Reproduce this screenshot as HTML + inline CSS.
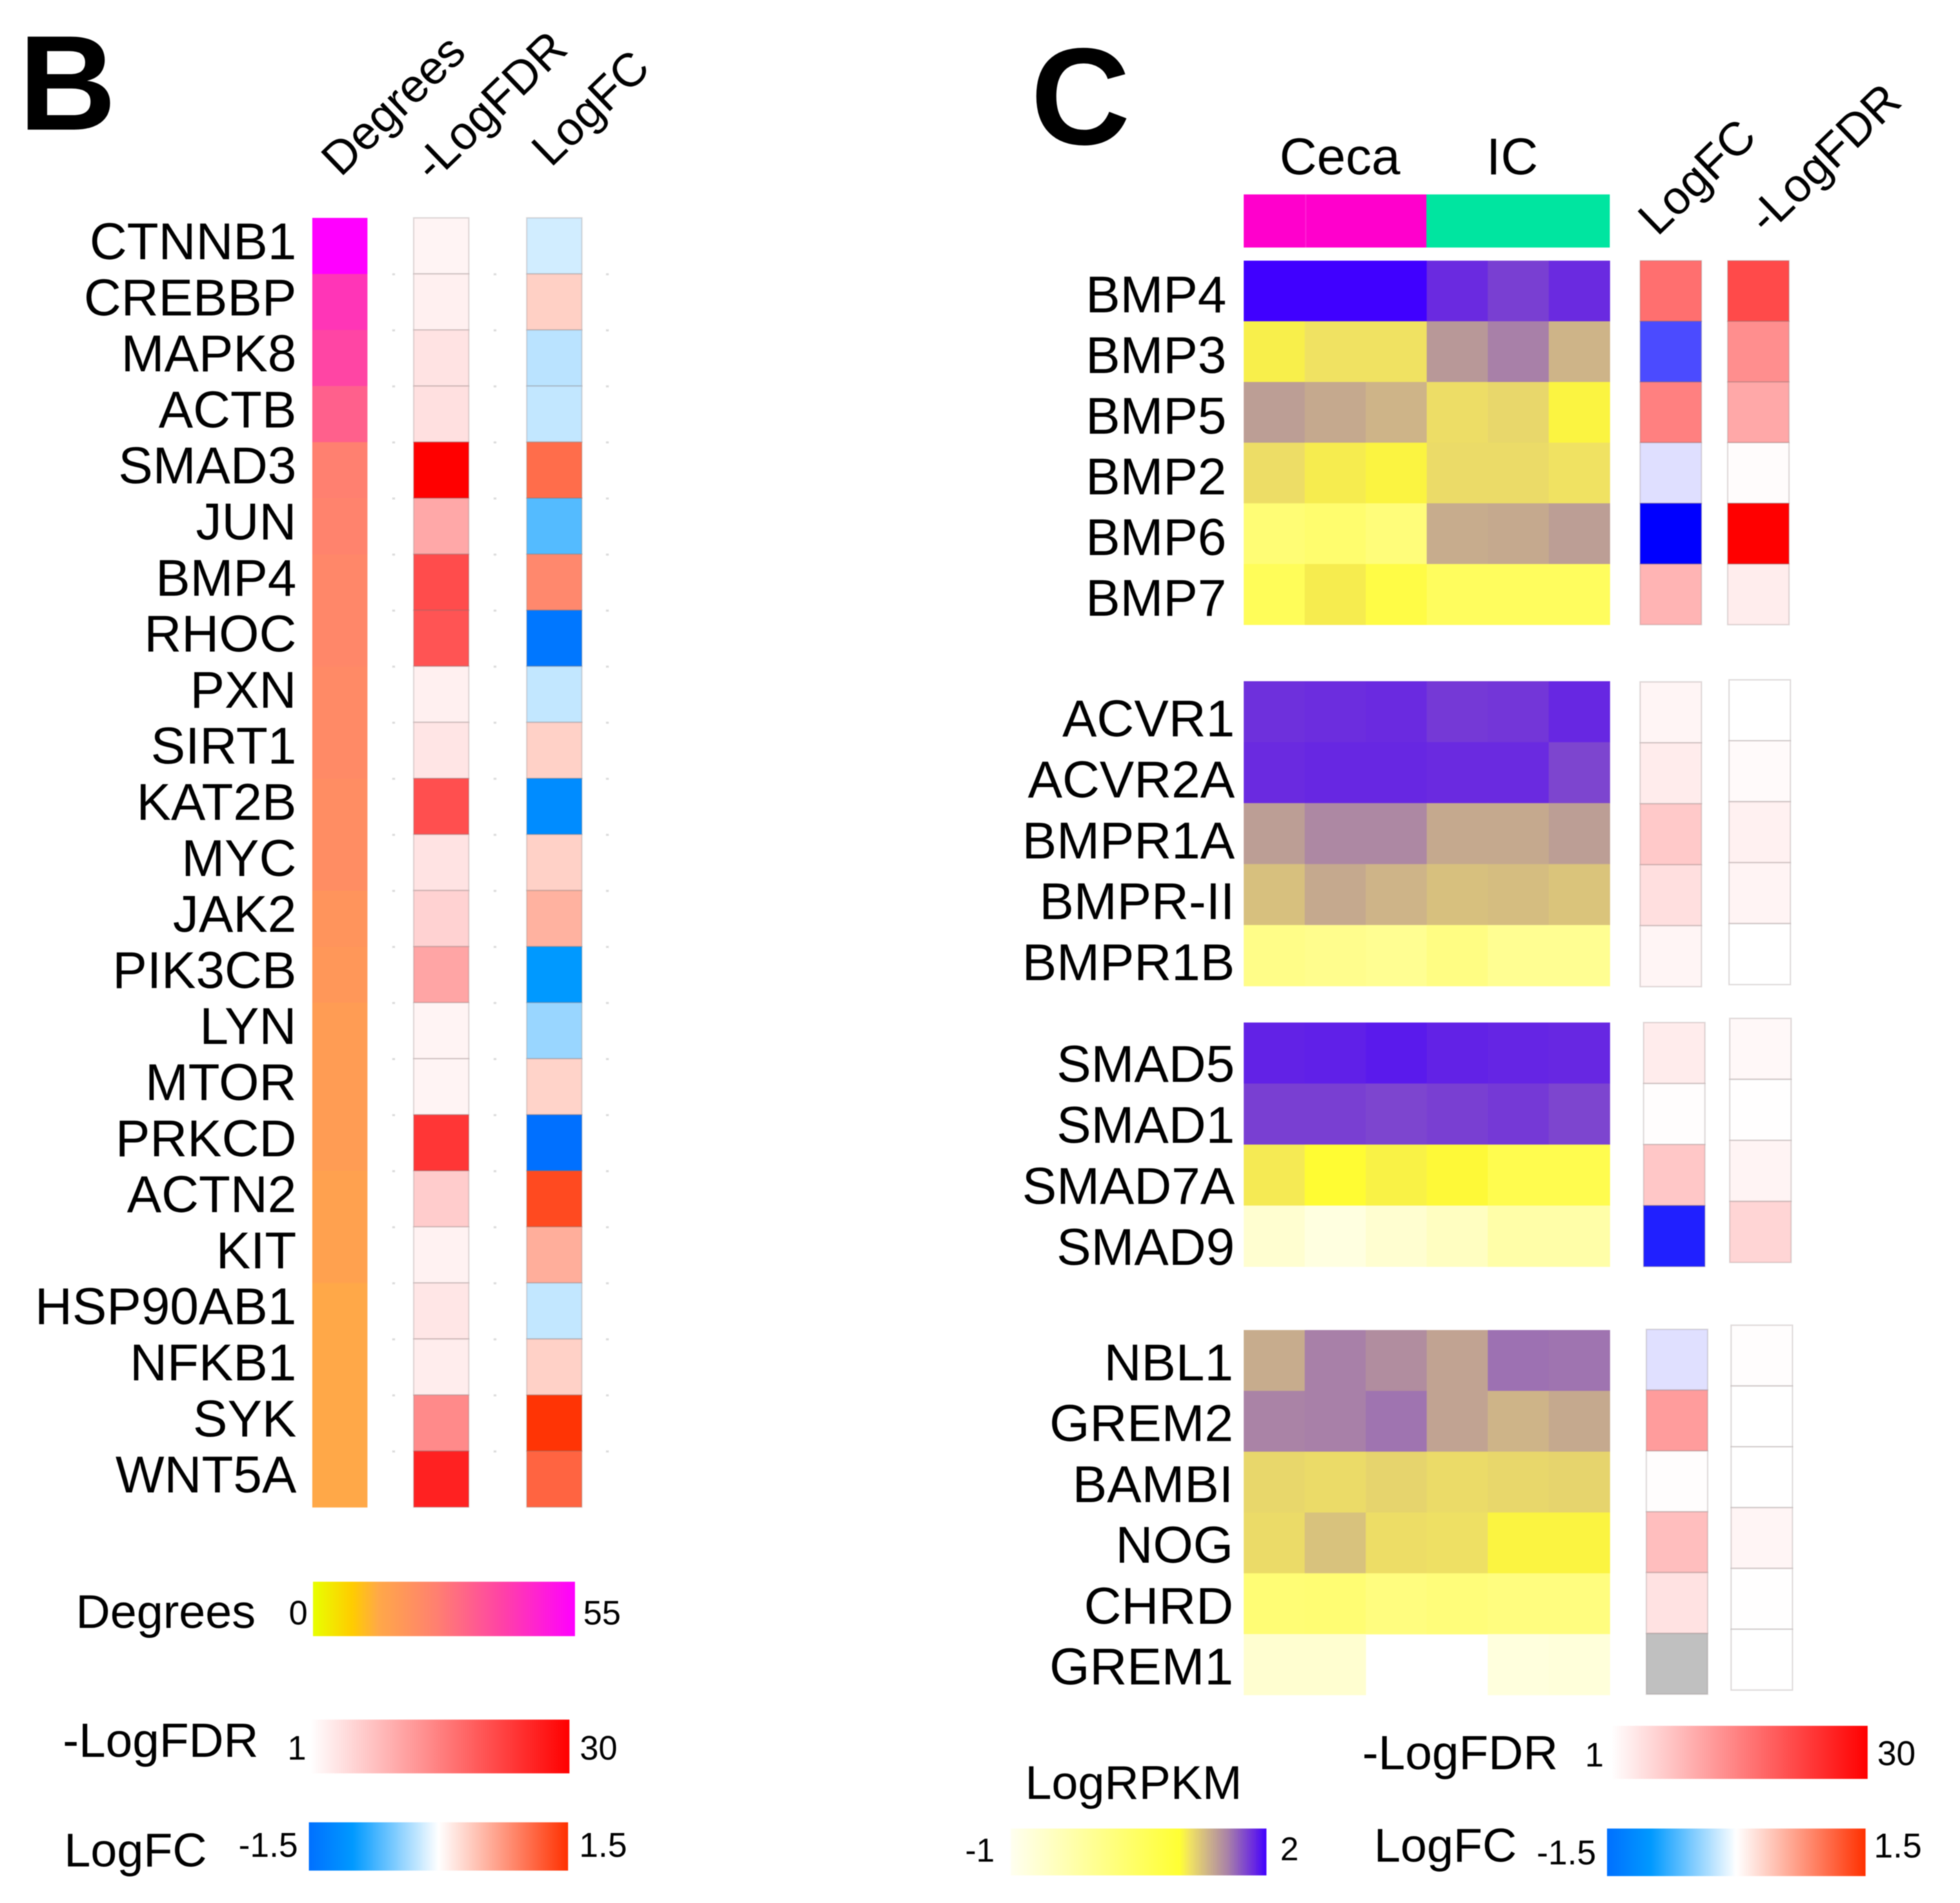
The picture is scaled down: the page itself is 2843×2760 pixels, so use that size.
<!DOCTYPE html>
<html lang="en">
<head>
<meta charset="utf-8">
<title>Panels B and C heatmaps</title>
<style>
html,body{margin:0;padding:0;background:#fff;width:2843px;height:2760px;overflow:hidden}
#figure{display:block;filter:blur(0.9px)}
text{font-family:"Liberation Sans",sans-serif;fill:#000}
</style>
</head>
<body>
<svg id="figure" xmlns="http://www.w3.org/2000/svg" width="2843" height="2760" viewBox="0 0 2843 2760">
<defs>
<linearGradient id="grad-degrees"><stop offset="0" stop-color="#e8ff00"/><stop offset=".15" stop-color="#ffcc00"/><stop offset=".25" stop-color="#ffa848"/><stop offset=".47" stop-color="#ff8070"/><stop offset=".73" stop-color="#ff40a8"/><stop offset="1" stop-color="#ff00ff"/></linearGradient>
<linearGradient id="grad-fdr"><stop offset="0" stop-color="#ffffff"/><stop offset="1" stop-color="#ff0000"/></linearGradient>
<linearGradient id="grad-fc"><stop offset="0" stop-color="#0070ff"/><stop offset=".17" stop-color="#0099ff"/><stop offset=".5" stop-color="#ffffff"/><stop offset="1" stop-color="#ff3000"/></linearGradient>
<linearGradient id="grad-rpkm"><stop offset="0" stop-color="#fffff0"/><stop offset=".66" stop-color="#ffff33"/><stop offset=".7" stop-color="#f0e262"/><stop offset=".77" stop-color="#ceb488"/><stop offset=".85" stop-color="#a880a8"/><stop offset=".95" stop-color="#6a2ae0"/><stop offset="1" stop-color="#4000ff"/></linearGradient>
</defs>
<rect width="2843" height="2760" fill="#fff"/>

<text x="27" y="188" font-size="196" font-weight="700">B</text>
<text x="1495" y="209" font-size="200" font-weight="700">C</text>

<text transform="translate(494,258) rotate(-44)" font-size="68">Degrees</text>
<text transform="translate(628,266) rotate(-44)" font-size="68">-LogFDR</text>
<text transform="translate(799,244) rotate(-44)" font-size="68">LogFC</text>

<text x="110" y="2361" font-size="69">Degrees</text>
<text x="419" y="2356" font-size="49">0</text>
<rect x="454" y="2294" width="380" height="79" fill="url(#grad-degrees)"/>
<text x="846" y="2356" font-size="49">55</text>

<text x="91" y="2548" font-size="70">-LogFDR</text>
<text x="417" y="2552" font-size="49">1</text>
<rect x="450" y="2494" width="376" height="78" fill="url(#grad-fdr)"/>
<text x="841" y="2552" font-size="49">30</text>

<text x="93" y="2707" font-size="69">LogFC</text>
<text x="346" y="2693" font-size="50">-1.5</text>
<rect x="448" y="2643" width="376" height="70" fill="url(#grad-fc)"/>
<text x="840" y="2693" font-size="50">1.5</text>

<text x="1856" y="253" font-size="75">Ceca</text>
<text x="2156" y="253" font-size="75">IC</text>
<rect x="1804" y="282" width="265" height="77" fill="#ff00cc"/>
<rect x="2069" y="282" width="266" height="77" fill="#00e5a0"/>
<rect x="1893" y="282" width="2" height="77" fill="#ff20d4"/>

<text transform="translate(2404,344) rotate(-44)" font-size="68">LogFC</text>
<text transform="translate(2563,342) rotate(-44)" font-size="68">-LogFDR</text>

<text x="1487" y="2609" font-size="69">LogRPKM</text>
<text x="1400" y="2700" font-size="48">-1</text>
<rect x="1466" y="2652" width="371" height="68" fill="url(#grad-rpkm)"/>
<text x="1857" y="2698" font-size="48">2</text>

<text x="1976" y="2566" font-size="70">-LogFDR</text>
<text x="2299" y="2562" font-size="49">1</text>
<rect x="2337" y="2503" width="372" height="77" fill="url(#grad-fdr)"/>
<text x="2723" y="2560" font-size="50">30</text>

<text x="1993" y="2700" font-size="69">LogFC</text>
<text x="2229" y="2704" font-size="50">-1.5</text>
<rect x="2331" y="2652" width="375" height="69" fill="url(#grad-fc)"/>
<text x="2718" y="2694" font-size="50">1.5</text>

<g id="marks"></g>
</svg>
<script>
// Panel B data
const genesB = ["CTNNB1","CREBBP","MAPK8","ACTB","SMAD3","JUN","BMP4","RHOC","PXN","SIRT1","KAT2B","MYC","JAK2","PIK3CB","LYN","MTOR","PRKCD","ACTN2","KIT","HSP90AB1","NFKB1","SYK","WNT5A"];
const degreesB = [55,42.6,39,33,26,25,24,24,23,23,22,22,20,19,17.5,17.5,17.5,16,16,14,14,14,14];
const logFdrB = [2.2,2.7,4.2,4.5,30,10.9,21.3,20.4,2.7,4.0,21,4.2,6.1,11.2,2.2,2.2,23.9,6.8,2.5,3.9,3.0,14.3,26.2];
const logFcB = [-0.18,0.34,-0.27,-0.24,1.06,-0.67,0.86,-1.41,-0.24,0.33,-1.16,0.33,0.56,-1.0,-0.4,0.32,-1.5,1.31,0.59,-0.24,0.33,1.47,1.12];

// Panel C data: ligands
const ligandGenes = ["BMP4","BMP3","BMP5","BMP2","BMP6","BMP7"];
const ligandRpkm = [
  [2,2,2,1.84,1.77,1.84],
  [1.05,1.1,1.1,1.4,1.55,1.3],
  [1.38,1.34,1.3,1.12,1.15,1.03],
  [1.12,1.06,1.03,1.13,1.13,1.1],
  [0.3,0.38,0.25,1.33,1.34,1.38],
  [0.6,1.06,0.8,0.55,0.55,0.55]
];
const ligandFc = [0.85,-1.06,0.75,-0.19,-1.5,0.44];
const ligandFdr = [21.6,13.8,10.9,1.3,30,3];

// Panel C data: receptors
const receptorGenes = ["ACVR1","ACVR2A","BMPR1A","BMPR-II","BMPR1B"];
const receptorRpkm = [
  [1.82,1.83,1.84,1.79,1.8,1.85],
  [1.84,1.85,1.85,1.84,1.84,1.75],
  [1.38,1.5,1.5,1.34,1.34,1.38],
  [1.25,1.34,1.3,1.25,1.26,1.23],
  [0.1,0.05,0,0.15,0,0]
];
const receptorFc = [0.06,0.11,0.32,0.19,0.06];
const receptorFdr = [1,1.6,2.6,2.2,1];

// Panel C data: SMADs
const smadGenes = ["SMAD5","SMAD1","SMAD7A","SMAD9"];
const smadRpkm = [
  [1.87,1.88,1.9,1.87,1.86,1.85],
  [1.77,1.77,1.75,1.77,1.79,1.75],
  [1.07,1.0,1.04,1.01,0.7,0.7],
  [-0.66,-0.83,-0.66,-0.5,-0.24,-0.24]
];
const smadFc = [0.11,0.01,0.33,-1.31];
const smadFdr = [1.8,1.1,2.2,5.8];

// Panel C data: antagonists
const antagonistGenes = ["NBL1","GREM2","BAMBI","NOG","CHRD","GREM1"];
const antagonistRpkm = [
  [1.33,1.55,1.47,1.36,1.6,1.59],
  [1.53,1.55,1.59,1.36,1.3,1.34],
  [1.15,1.13,1.16,1.13,1.15,1.16],
  [1.13,1.24,1.12,1.11,1.03,1.03],
  [0.3,0.32,0.2,0.25,0.2,0.2],
  [-0.66,-0.66,null,null,-0.8,-0.77]
];
const antagonistFc = [-0.18,0.58,0.01,0.38,0.17,null];
const antagonistFdr = [1.2,1,1,2.1,1.1,1];

// Colour scales: value -> colour
const scaleDegrees = [[0,[232,255,0]],[8,[255,204,0]],[14,[255,168,72]],[26,[255,128,112]],[40,[255,64,168]],[55,[255,0,255]]];
const scaleFdr = [[1,[255,255,255]],[30,[255,0,0]]];
const scaleFcB = [[-1.5,[0,112,255]],[-1,[0,153,255]],[0,[255,255,255]],[1.5,[255,48,0]]];
const scaleFcC = [[-1.5,[0,0,255]],[0,[255,255,255]],[1.5,[255,0,0]]];
const scaleRpkm = [[-1,[255,255,240]],[1,[255,252,51]],[1.1,[240,226,98]],[1.3,[206,180,136]],[1.4,[184,152,152]],[1.55,[168,128,168]],[1.84,[106,42,224]],[2,[64,0,255]]];
const missingColor = "#c0c0c0";

function colorOf(stops, v) {
  if (v <= stops[0][0]) return "rgb(" + stops[0][1].join(",") + ")";
  for (let i = 1; i < stops.length; i++) {
    if (v <= stops[i][0]) {
      const t = (v - stops[i-1][0]) / (stops[i][0] - stops[i-1][0]);
      const c = stops[i-1][1].map((a, k) => Math.round(a + (stops[i][1][k] - a) * t));
      return "rgb(" + c.join(",") + ")";
    }
  }
  return "rgb(" + stops[stops.length-1][1].join(",") + ")";
}

const NS = "http://www.w3.org/2000/svg";
const marks = document.getElementById("marks");

function makeRect(x, y, w, h, fill, outlined) {
  const r = document.createElementNS(NS, "rect");
  r.setAttribute("x", x);
  r.setAttribute("y", y);
  r.setAttribute("width", w);
  r.setAttribute("height", h);
  r.setAttribute("fill", fill);
  if (outlined) {
    r.setAttribute("stroke", "rgba(120,105,105,0.24)");
    r.setAttribute("stroke-width", "2");
  }
  marks.appendChild(r);
  return r;
}

function makeLabel(str, x, y) {
  const t = document.createElementNS(NS, "text");
  t.setAttribute("x", x);
  t.setAttribute("y", y);
  t.setAttribute("font-size", "75");
  t.setAttribute("text-anchor", "end");
  t.textContent = str;
  marks.appendChild(t);
  return t;
}

// Panel B axes
const bTop = 316, bRow = 81.3;
const yB = i => bTop + i * bRow;
const bColumns = [[453, 80], [600, 80], [764, 80]];

genesB.forEach((gene, i) => {
  const label = makeLabel(gene, 430, yB(i) + 60);
  
  

  const deg = makeRect(bColumns[0][0], yB(i), bColumns[0][1], bRow + 0.5, colorOf(scaleDegrees, degreesB[i]), false);
  
  

  const fdr = makeRect(bColumns[1][0], yB(i), bColumns[1][1], bRow, colorOf(scaleFdr, logFdrB[i]), true);
  
  

  const fc = makeRect(bColumns[2][0], yB(i), bColumns[2][1], bRow, colorOf(scaleFcB, logFcB[i]), true);
  
  

  if (i > 0) {
    [569, 716, 879].forEach(dx => {
      const dot = makeRect(dx, yB(i) - 1, 4, 3, "#dcdcdc", false);
      
      
    });
  }
});

// Panel C axes
const cLeft = 1804, cCol = 88.5;
const xC = j => cLeft + j * cCol;

function drawGroup(name, genes, rpkm, fc, fdr, L) {
  const yR = i => L.top + i * L.row;
  genes.forEach((gene, i) => {
    const label = makeLabel(gene, L.labelX, L.baseline + i * L.row);
    
    

    rpkm[i].forEach((v, j) => {
      if (v === null) return;
      const cell = makeRect(xC(j), yR(i), cCol + 0.4, L.row + 0.4, colorOf(scaleRpkm, v), false);
      
      
    });

    const fcCell = makeRect(L.fcX, L.fcTop + i * L.row, 89, L.row, fc[i] === null ? missingColor : colorOf(scaleFcC, fc[i]), true);
    
    

    const fdrCell = makeRect(L.fdrX, L.fdrTop + i * L.row, 89, L.row, colorOf(scaleFdr, fdr[i]), true);
    
    
  });
}

drawGroup("ligand", ligandGenes, ligandRpkm, ligandFc, ligandFdr,
  {top:378, row:88, labelX:1779, baseline:453, fcX:2379, fcTop:378, fdrX:2506, fdrTop:378});
drawGroup("receptor", receptorGenes, receptorRpkm, receptorFc, receptorFdr,
  {top:988, row:88.4, labelX:1791, baseline:1068, fcX:2379, fcTop:989, fdrX:2508, fdrTop:986});
drawGroup("smad", smadGenes, smadRpkm, smadFc, smadFdr,
  {top:1483, row:88.5, labelX:1791, baseline:1569, fcX:2384, fcTop:1483, fdrX:2509, fdrTop:1477});
drawGroup("antagonist", antagonistGenes, antagonistRpkm, antagonistFc, antagonistFdr,
  {top:1929, row:88.2, labelX:1789, baseline:2002, fcX:2388, fcTop:1928, fdrX:2511, fdrTop:1922});
</script>
</body>
</html>
